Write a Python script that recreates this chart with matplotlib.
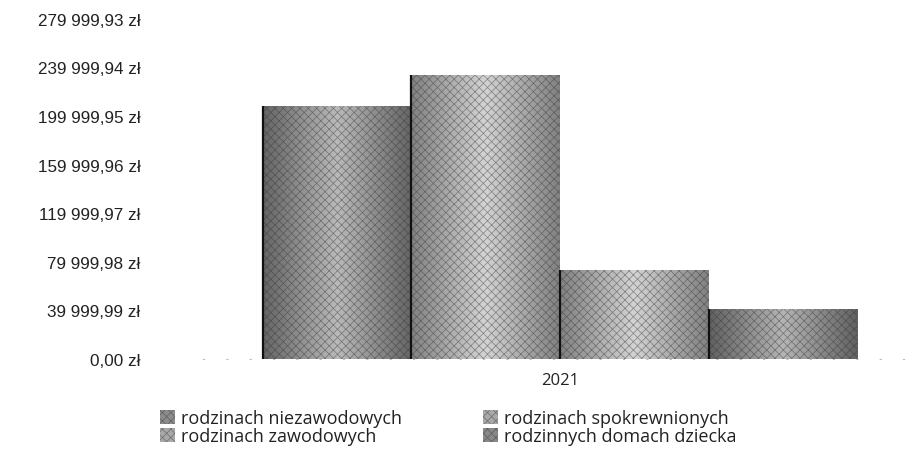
import numpy as np
import matplotlib.pyplot as plt
from matplotlib.colors import LinearSegmentedColormap

# dane
year = '2021'
series = ['rodzinach niezawodowych', 'rodzinach spokrewnionych',
          'rodzinach zawodowych', 'rodzinnych domach dziecka']
values = [208000, 234000, 73500, 41300]
tick_values = [0, 39999.99, 79999.98, 119999.97, 159999.96,
               199999.95, 239999.94, 279999.93]
tick_labels = ['0,00 zł', '39 999,99 zł', '79 999,98 zł', '119 999,97 zł',
               '159 999,96 zł', '199 999,95 zł', '239 999,94 zł',
               '279 999,93 zł']

# odcienie szarości dla słupków (ciemny, jasny)
shades = [('#666666', '#bababa'), ('#828282', '#d4d4d4'),
          ('#828282', '#d4d4d4'), ('#626262', '#b5b5b5')]
legend_colors = ['#8c8c8c', '#a8a8a8', '#a8a8a8', '#888888']

plt.rcParams['hatch.linewidth'] = 0.5

fig = plt.figure(figsize=(9.17, 4.56), dpi=100)
ax = fig.add_axes([0.2214, 0.2105, 0.7786, 0.746])

group_w = 0.833
w = group_w / len(series)
x0 = -group_w / 2 + w / 2

bars = []
for i, (name, v) in enumerate(zip(series, values)):
    b = ax.bar(x0 + i * w, v, width=w, color=legend_colors[i], linewidth=0,
               label=name, zorder=2)[0]
    bars.append(b)
    # gradient poziomy przycięty do słupka
    dark, light = shades[i]
    cmap = LinearSegmentedColormap.from_list('g', [dark, light, dark])
    im = ax.imshow(np.vstack([np.linspace(0, 1, 64)] * 2), cmap=cmap,
                   aspect='auto', zorder=3,
                   extent=[b.get_x(), b.get_x() + b.get_width(), 0, v])
    im.set_clip_path(b)
    # ziarno
    ax.bar(b.get_x() + b.get_width() / 2, v, width=w, facecolor='none',
           edgecolor=(0.2, 0.2, 0.2, 0.5), hatch='xxxx', linewidth=0,
           zorder=4)
    # ciemna lewa krawędź
    ax.plot([b.get_x(), b.get_x()], [0, v], color='#111111', lw=1.6,
            zorder=5, solid_capstyle='butt')

ax.set_xlim(-0.5, 0.5)
ax.set_ylim(0, tick_values[-1])
ax.set_xticks([0])
ax.set_xticklabels([year], fontsize=12, family=['Open Sans', 'DejaVu Sans'],
                   color='#222222')
ax.set_yticks(tick_values)
ax.set_yticklabels(tick_labels, fontsize=12.3,
                   family=['Liberation Sans', 'DejaVu Sans'], color='#222222')
ax.tick_params(axis='y', length=0, pad=45)
ax.tick_params(axis='x', length=0, pad=9)
for s in ['top', 'right', 'left']:
    ax.spines[s].set_visible(False)
ax.spines['bottom'].set_color('#bbbbbb')
ax.spines['bottom'].set_linestyle((0, (1, 20)))
ax.spines['bottom'].set_linewidth(0.8)

order = [0, 2, 1, 3]
leg = fig.legend([bars[k] for k in order], [series[k] for k in order],
                 ncol=2, loc='upper left', bbox_to_anchor=(0.175, 0.1),
                 frameon=False, handlelength=0.8, handleheight=0.8,
                 handletextpad=0.35, columnspacing=4.5, labelspacing=0.0,
                 borderpad=0, borderaxespad=0,
                 prop={'family': ['Open Sans', 'DejaVu Sans'], 'size': 13})
for t in leg.get_texts():
    t.set_color('#222222')
for h in leg.legend_handles:
    h.set_hatch('xxxx')
    h.set_edgecolor((0.2, 0.2, 0.2, 0.5))

fig.savefig('out.png', dpi=100)
